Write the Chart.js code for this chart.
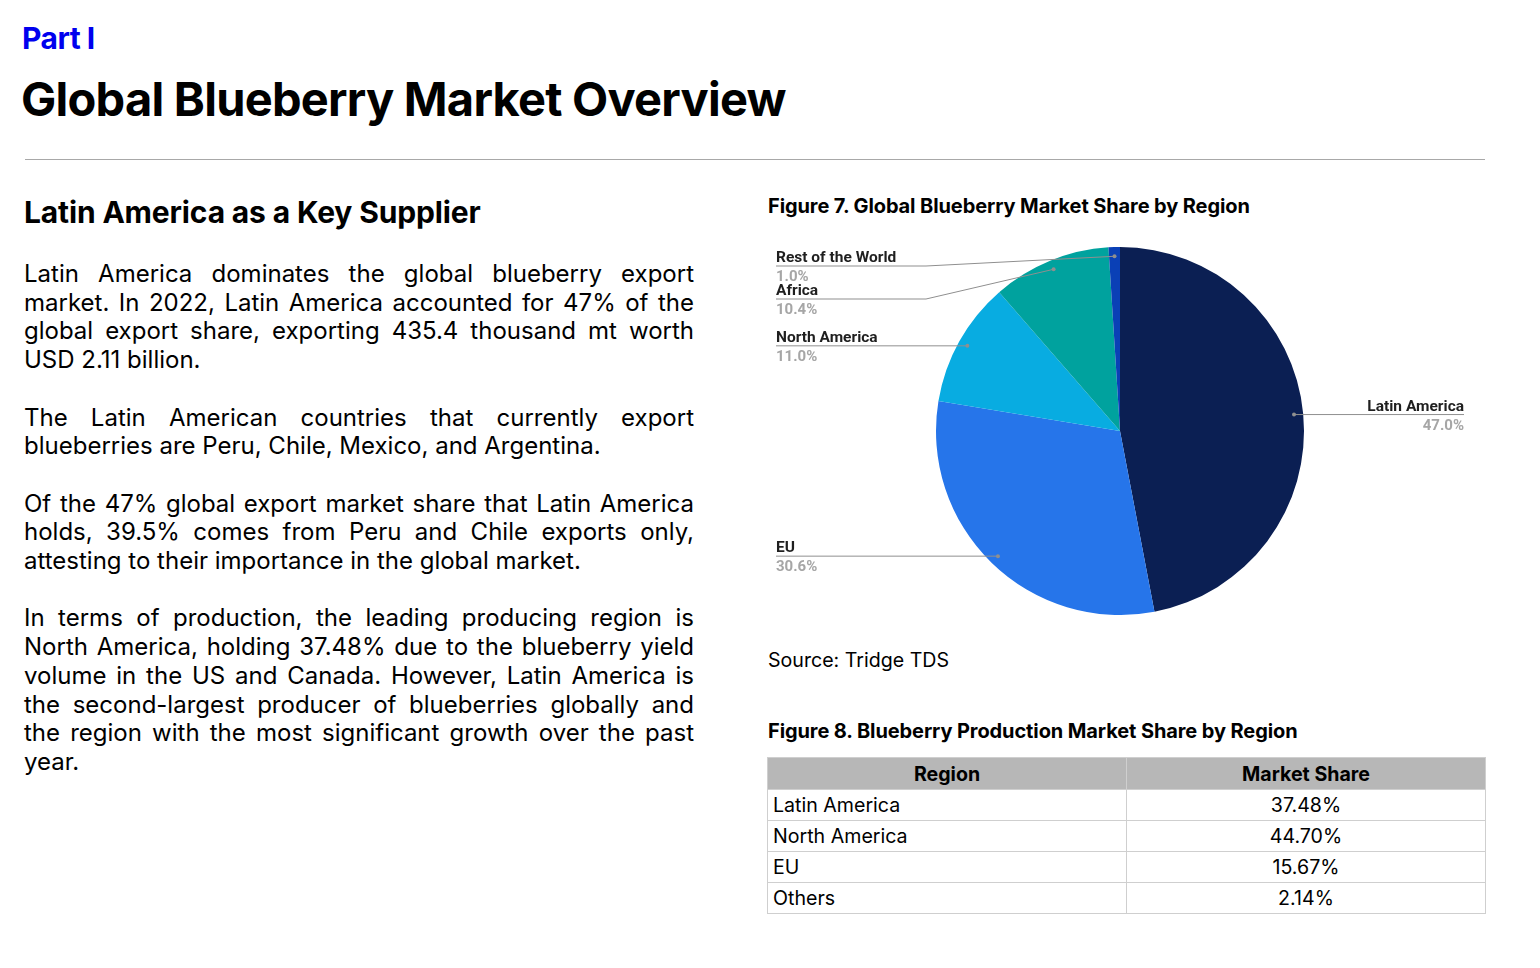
<!DOCTYPE html>
<html>
<head>
<meta charset="utf-8">
<script src="https://cdn.jsdelivr.net/npm/chart.js@4.4.0/dist/chart.umd.min.js"></script>
<style>
  html, body { margin: 0; padding: 0; background: #fff; }
  body { width: 1540px; height: 968px; position: relative; font-family: Inter, "Noto Sans", sans-serif; color: #000; }
  .abs { position: absolute; }
  #part { left: 22px; top: 20px; font-size: 30px; font-weight: 700; color: #0000ee; letter-spacing: -0.5px; }
  #title { left: 21px; top: 70px; font-size: 47px; font-weight: 700; letter-spacing: -0.75px; }
  #rule { left: 25px; top: 159px; width: 1460px; height: 0; border-top: 1.5px solid #a8a8a8; }
  #subtitle { left: 24px; top: 194px; font-size: 30px; font-weight: 700; letter-spacing: -0.15px; }
  #body { left: 24px; top: 260px; width: 670px; font-size: 24px; line-height: 28.7px; text-align: justify; }
  #body p { margin: 0 0 28.7px 0; }
  .fig { font-size: 20px; font-weight: 700; letter-spacing: -0.1px; left: 768px; }
  #fig7 { top: 194px; }
  #fig8 { top: 719px; }
  #source { left: 768px; top: 648px; font-size: 19.6px; }
  #chartbox { left: 767px; top: 247px; width: 706px; height: 368px; }
  #tbl { left: 767px; top: 757px; width: 718px; border-collapse: collapse; font-size: 19.6px; table-layout: fixed; }
  #tbl th, #tbl td { border: 1px solid #cfcfcf; padding: 0 5px; height: 30px; }
  #tbl th { background: #b7b7b7; font-weight: 700; height: 31px; }
  #tbl td.v { text-align: center; }
</style>
</head>
<body>
<div class="abs" id="part">Part I</div>
<div class="abs" id="title">Global Blueberry Market Overview</div>
<div class="abs" id="rule"></div>
<div class="abs" id="subtitle">Latin America as a Key Supplier</div>
<div class="abs" id="body">
  <p>Latin America dominates the global blueberry export market. In 2022, Latin America accounted for 47% of the global export share, exporting 435.4 thousand mt worth USD 2.11 billion.</p>
  <p>The Latin American countries that currently export blueberries are Peru, Chile, Mexico, and Argentina.</p>
  <p>Of the 47% global export market share that Latin America holds, 39.5% comes from Peru and Chile exports only, attesting to their importance in the global market.</p>
  <p>In terms of production, the leading producing region is North America, holding 37.48% due to the blueberry yield volume in the US and Canada. However, Latin America is the second-largest producer of blueberries globally and the region with the most significant growth over the past year.</p>
</div>
<div class="abs fig" id="fig7">Figure 7. Global Blueberry Market Share by Region</div>
<div class="abs" id="chartbox"><canvas id="pie"></canvas></div>
<div class="abs" id="source">Source: Tridge TDS</div>
<div class="abs fig" id="fig8">Figure 8. Blueberry Production Market Share by Region</div>
<table class="abs" id="tbl">
  <colgroup><col style="width:359px"><col style="width:359px"></colgroup>
  <thead><tr id="thead"></tr></thead>
  <tbody id="tbody"></tbody>
</table>

<script>
// Figure 7 data
const regions = ['Latin America', 'EU', 'North America', 'Africa', 'Rest of the World'];
const shares = [47.0, 30.6, 11.0, 10.4, 1.0];
const sliceColors = ['#0b1f53', '#2675ea', '#08ace1', '#00a29e', '#0a40b6'];

// Figure 8 table
const tableHead = ['Region', 'Market Share'];
const prodRegions = ['Latin America', 'North America', 'EU', 'Others'];
const prodShares = ['37.48%', '44.70%', '15.67%', '2.14%'];

const thead = document.getElementById('thead');
tableHead.forEach(function (h) {
    const th = document.createElement('th');
    th.textContent = h;
    thead.appendChild(th);
});
const tbody = document.getElementById('tbody');
for (let i = 0; i < prodRegions.length; i++) {
    const tr = document.createElement('tr');
    tr.innerHTML = '<td>' + prodRegions[i] + '</td><td class="v">' + prodShares[i] + '</td>';
    tbody.appendChild(tr);
}

// leader-line labels like the original sheet chart
const calloutLabels = {
    id: 'calloutLabels',
    afterDatasetsDraw(chart) {
        const c = chart.ctx;
        const area = chart.chartArea;
        const arcs = chart.getDatasetMeta(0).data;
        const left = [], right = [];
        arcs.forEach(function (arc, i) {
            const p = arc.getProps(['x', 'y', 'startAngle', 'endAngle', 'outerRadius'], true);
            const mid = (p.startAngle + p.endAngle) / 2;
            const dx = p.x + Math.cos(mid) * p.outerRadius * 0.95;
            const dy = p.y + Math.sin(mid) * p.outerRadius * 0.95;
            const item = { i: i, dx: dx, dy: dy };
            if (Math.cos(mid) > 0) right.push(item); else left.push(item);
        });

        function place(list) {
            list.sort(function (a, b) { return a.dy - b.dy; });
            let prev = -Infinity;
            list.forEach(function (it) {
                it.ly = Math.max(it.dy, prev + 33, area.top + 19);
                prev = it.ly;
            });
        }
        place(left);
        place(right);

        c.save();
        c.lineWidth = 1;

        function drawOne(it, side) {
            const lx = side === 'left' ? area.left + 9 : area.right - 9;
            c.beginPath();
            c.moveTo(lx, it.ly);
            if (Math.abs(it.ly - it.dy) < 1) {
                c.lineTo(it.dx, it.ly);
            } else {
                const ex = side === 'left' ? lx + 150 : lx - 150;
                c.lineTo(ex, it.ly);
                c.lineTo(it.dx, it.dy);
            }
            c.strokeStyle = '#8f8f8f';
            c.stroke();
            c.beginPath();
            c.arc(it.dx, it.dy, 2, 0, Math.PI * 2);
            c.fillStyle = '#8f8f8f';
            c.fill();

            c.textAlign = side === 'left' ? 'left' : 'right';
            c.textBaseline = 'alphabetic';
            c.font = '700 15.5px Roboto';
            c.fillStyle = '#1f1f1f';
            c.fillText(regions[it.i], lx, it.ly - 4);
            c.font = '700 15px Roboto';
            c.fillStyle = '#a6a6a6';
            c.fillText(shares[it.i].toFixed(1) + '%', lx, it.ly + 15);
        }
        left.forEach(function (it) { drawOne(it, 'left'); });
        right.forEach(function (it) { drawOne(it, 'right'); });
        c.restore();
    }
};

new Chart(document.getElementById('pie'), {
    type: 'pie',
    data: {
        labels: regions,
        datasets: [{
            data: shares,
            backgroundColor: sliceColors,
            borderWidth: 0
        }]
    },
    options: {
        responsive: true,
        maintainAspectRatio: false,
        animation: false,
        layout: { padding: 0 },
        plugins: {
            legend: { display: false },
            tooltip: { enabled: false }
        }
    },
    plugins: [calloutLabels]
});
</script>
</body>
</html>
